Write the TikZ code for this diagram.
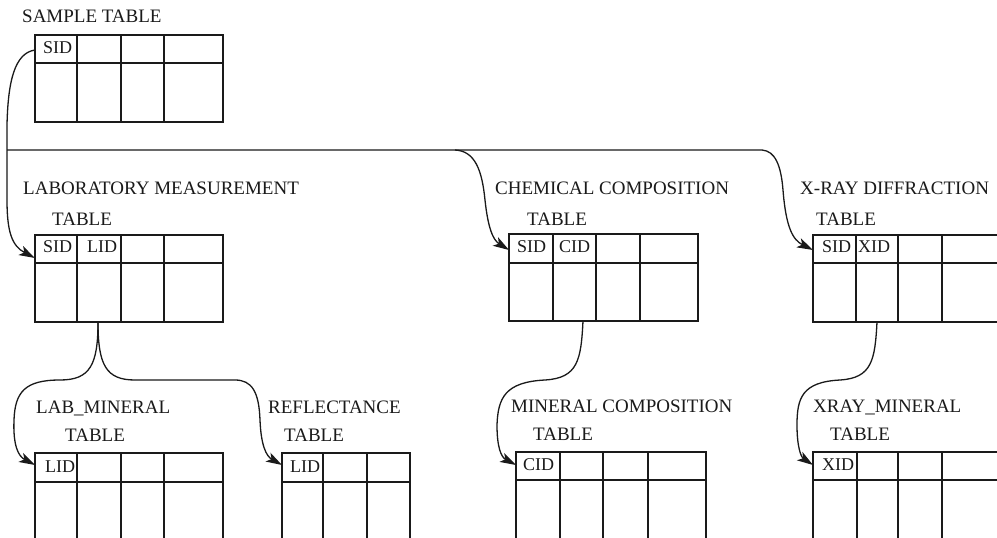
\documentclass[tikz,border=0pt]{standalone}
\usepackage{fontspec}
\setmainfont{Liberation Serif}
\usetikzlibrary{arrows.meta,calc}
\definecolor{ink}{HTML}{1A1A1A}
\tikzset{
  tbl/.style={draw=ink, line width=1.4pt, inner sep=0pt, outer sep=0pt, anchor=north west},
  gridline/.style={draw=ink, line width=1.4pt},
  conn/.style={draw=ink, line width=1.3pt, -{Stealth[length=16pt, width=10pt, inset=4pt]}},
  lbl/.style={anchor=base west, inner sep=0pt, text=ink, font=\fontsize{19}{20}\selectfont},
  cell/.style={anchor=base west, inner sep=0pt, text=ink, font=\fontsize{18}{20}\selectfont},
}
% name, left, top, right, header bottom, bottom, inner column x list
\newcommand{\dbtab}[7]{%
  \node[tbl, minimum width={(#4-#2)*1pt}, minimum height={(#6-#3)*1pt}] (#1) at (#2,#3) {};
  \draw[gridline] (#2,#5) -- (#4,#5);
  \foreach \cx in {#7} {\draw[gridline] (\cx,#3) -- (\cx,#6);}
}
\begin{document}
\begin{tikzpicture}
\begin{scope}[x=1pt,y=-1pt]
\fill[white] (0,0) rectangle (997,538);
\path[use as bounding box] (0,0) rectangle (997,538);

% tables
\begin{scope}
\clip (0,0) rectangle (997,538);
\dbtab{sample}{35}{35}{223}{63}{122}{77,121,164}
\dbtab{lab}{35}{235}{223}{263}{322}{77,121,164}
\dbtab{chem}{509}{234}{698}{263}{321}{553,596,640}
\dbtab{xray}{813}{235}{1010}{263}{322}{856,898,942}
\dbtab{labmin}{35}{453}{223}{482}{560}{77,121,164}
\dbtab{refl}{282}{453}{410}{482}{560}{323,367}
\dbtab{mincomp}{516}{452}{706}{480}{560}{560,603,648}
\dbtab{xraymin}{813}{452}{1010}{480}{560}{857,898,942}
\end{scope}

% titles
\node[lbl] (t1) at (22,23) {SAMPLE TABLE};
\node[lbl] (t2) at (23,194) {LABORATORY MEASUREMENT};
\node[lbl] (t2b) at (52,225) {TABLE};
\node[lbl] (t3) at (495,194) {CHEMICAL COMPOSITION};
\node[lbl] (t3b) at (527,225) {TABLE};
\node[lbl] (t4) at (800,194) {X-RAY DIFFRACTION};
\node[lbl] (t4b) at (816,225) {TABLE};
\node[lbl] (t5) at (36,413) {LAB\_MINERAL};
\node[lbl] (t5b) at (65,441) {TABLE};
\node[lbl] (t6) at (268,413) {REFLECTANCE};
\node[lbl] (t6b) at (284,441) {TABLE};
\node[lbl] (t7) at (511,412) {MINERAL COMPOSITION};
\node[lbl] (t7b) at (533,440) {TABLE};
\node[lbl] (t8) at (813,412) {XRAY\_MINERAL};
\node[lbl] (t8b) at (830,440) {TABLE};

% cell keys
\node[cell] (c1) at (43,53) {SID};
\node[cell] (c2) at (43,252) {SID};
\node[cell] (c3) at (87,252) {LID};
\node[cell] (c4) at (517,252) {SID};
\node[cell] (c5) at (559,252) {CID};
\node[cell] (c6) at (822,252) {SID};
\node[cell] (c7) at (858,252) {XID};
\node[cell] (c8) at (45,472) {LID};
\node[cell] (c9) at (290,472) {LID};
\node[cell] (c10) at (523,470) {CID};
\node[cell] (c11) at (822,470) {XID};

% connectors
\coordinate (j) at (7,150);
\coordinate (labb) at ($(lab.south west)+(63,0)$);
\coordinate (chemb) at ($(chem.south west)+(74,0)$);
\coordinate (xrayb) at ($(xray.south west)+(64,0)$);

\draw[conn] ($(sample.north west)+(0,15)$) .. controls (15,53) and (8,80) .. (7,125)
  -- (7,200) .. controls (7,232) and (12,246) .. ($(lab.north west)+(0,23)$);
\draw[conn] (j) -- (762,150) .. controls (775,151) and (781,165) .. (783,190)
  .. controls (786,228) and (793,240) .. ($(xray.north west)+(0,15)$);
\draw[conn] (455,150) .. controls (475,151) and (482,170) .. (485,200)
  .. controls (488,228) and (493,240) .. ($(chem.north west)+(0,16)$);

\draw[conn] (labb) .. controls (98,365) and (90,380) .. (60,380)
  .. controls (25,380) and (15,392) .. (14,420)
  .. controls (13,445) and (18,456) .. ($(labmin.north west)+(0,12)$);
\draw[conn] (labb) .. controls (98,365) and (106,380) .. (135,380) -- (235,380)
  .. controls (252,380) and (259,392) .. (260,420)
  .. controls (261,445) and (266,456) .. ($(refl.north west)+(0,12)$);
\draw[conn] (chemb) .. controls (581,360) and (578,378) .. (545,380)
  .. controls (505,382) and (498,398) .. (497,425)
  .. controls (497,447) and (501,457) .. ($(mincomp.north west)+(0,13)$);
\draw[conn] (xrayb) .. controls (875,360) and (872,378) .. (840,380)
  .. controls (802,382) and (797,398) .. (797,425)
  .. controls (797,447) and (801,457) .. ($(xraymin.north west)+(0,13)$);
\end{scope}
\end{tikzpicture}
\end{document}
